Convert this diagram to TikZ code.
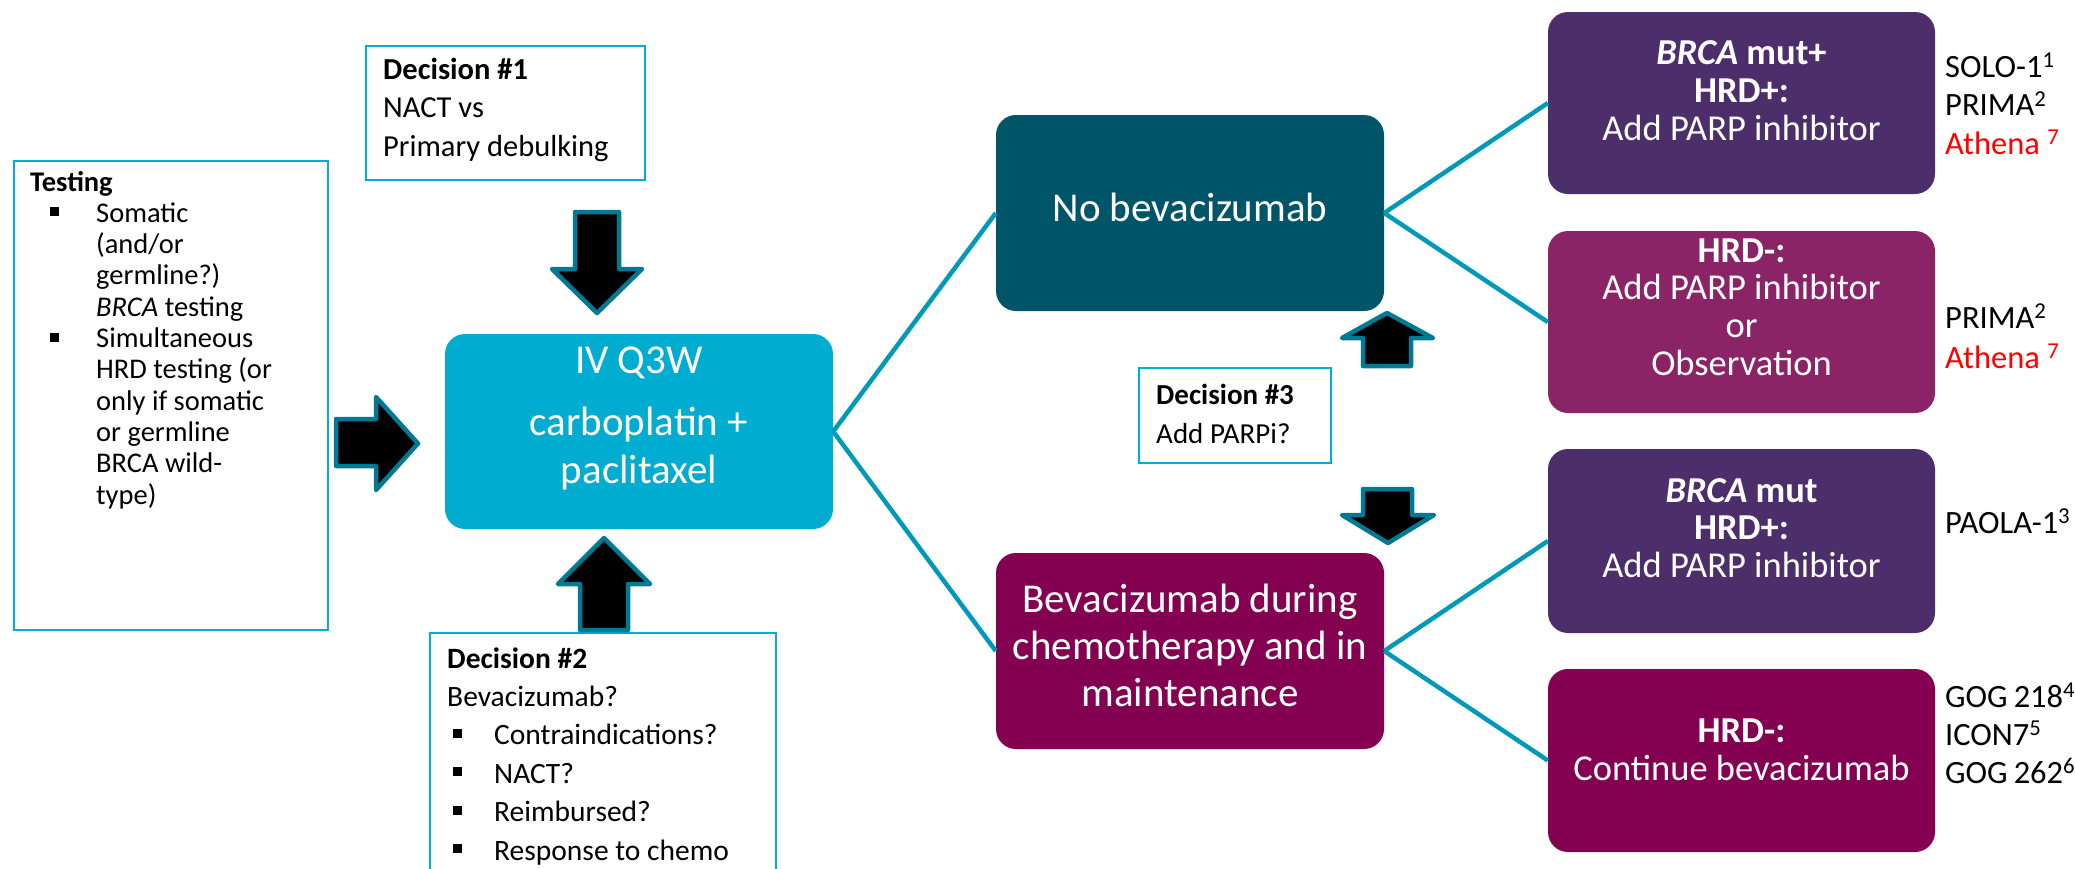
\documentclass[tikz,border=0pt]{standalone}
\usepackage{fontspec}
\setmainfont{Carlito}
\definecolor{framec}{HTML}{00AFD5}
\definecolor{arrowc}{HTML}{007A94}
\definecolor{connc}{HTML}{0099B8}
\definecolor{mainc}{HTML}{00ADD0}
\definecolor{nobevc}{HTML}{005568}
\definecolor{bevc}{HTML}{840050}
\definecolor{purpc}{HTML}{4C2E6A}
\definecolor{magc}{HTML}{8B2466}
\definecolor{redc}{HTML}{FF0000}
\newcommand\bsq[1]{\rule[#1]{9pt}{9pt}}
\newcommand\tbul{\hspace*{20pt}\makebox[46pt][l]{\bsq{6pt}}}
\newcommand\tind{\hspace*{66pt}}
\newcommand\dbul{\hspace*{6pt}\makebox[41pt][l]{\bsq{7pt}}}
\tikzset{
  framebox/.style={draw=framec, line width=2.5pt, rectangle, inner sep=0pt},
  colbox/.style={rectangle, rounded corners=20pt, draw=none, inner sep=0pt,
     minimum width=388pt, minimum height=196pt},
  rightbox/.style={rectangle, rounded corners=20pt, draw=none, inner sep=0pt,
     minimum width=387pt},
  blockarrow/.style={fill=black, draw=arrowc, line width=4.5pt, line join=round},
  conn/.style={draw=connc, line width=4.5pt},
  wtxt/.style={inner sep=0pt, anchor=base, text=white},
  btxt/.style={inner sep=0pt, anchor=base west, text=black},
}
\begin{document}
\begin{tikzpicture}[x=1pt,y=-1pt]
\useasboundingbox (0,0) rectangle (2075,868);

% ---- frame boxes
\node[framebox, minimum width=314pt, minimum height=469pt] (testing) at (171,395.5) {};
\node[framebox, minimum width=279pt, minimum height=134pt] (dec1) at (505.5,113) {};
\node[framebox, minimum width=346pt, minimum height=267pt] (dec2) at (603,766.5) {};
\node[framebox, minimum width=192pt, minimum height=95pt] (dec3) at (1235,415.5) {};

\node[btxt] (testingT) at (30,191) {\parbox[t]{295pt}{\fontsize{28.5}{31.3}\selectfont
\textbf{Testing}\\
\tbul Somatic\\
\tind (and/or\\
\tind germline?)\\
\tind \textit{BRCA} testing\\
\tbul Simultaneous\\
\tind HRD testing (or\\
\tind only if somatic\\
\tind or germline\\
\tind BRCA wild-\\
\tind type)}};

\node[btxt] (dec1T) at (383,79) {\parbox[t]{260pt}{\fontsize{30.5}{38.5}\selectfont
\textbf{Decision \#1}\\
NACT vs\\
Primary debulking}};

\node[btxt] (dec2T) at (447,668) {\parbox[t]{320pt}{\fontsize{29.5}{38.4}\selectfont
\textbf{Decision \#2}\\
Bevacizumab?\\
\dbul Contraindications?\\
\dbul NACT?\\
\dbul Reimbursed?\\
\dbul Response to chemo}};

\node[btxt] (dec3T) at (1156,404) {\parbox[t]{170pt}{\fontsize{29}{39}\selectfont
\textbf{Decision \#3}\\
Add PARPi?}};

% ---- coloured boxes
\node[colbox, fill=mainc, minimum height=195pt] (main) at (639,431.5) {};
\node[wtxt] (mainT) at (639,373) {\parbox[t]{380pt}{\centering\fontsize{41}{48}\selectfont
IV Q3W\\[14pt]
carboplatin +\\
paclitaxel}};

\node[colbox, fill=nobevc] (nobev) at (1190,213) {};
\node[wtxt] (nobevT) at (1190,221) {\fontsize{41}{48}\selectfont No bevacizumab};

\node[colbox, fill=bevc] (bev) at (1190,651) {};
\node[wtxt] (bevT) at (1190,612) {\parbox[t]{385pt}{\centering\fontsize{41}{47}\selectfont
Bevacizumab during\\
chemotherapy and in\\
maintenance}};

\node[rightbox, fill=purpc, minimum height=182pt] (r1) at (1741.5,103) {};
\node[wtxt] (r1T) at (1741.5,64) {\parbox[t]{380pt}{\centering\fontsize{36.5}{38}\selectfont
\textbf{\textit{BRCA} mut+}\\
\textbf{HRD+:}\\
Add PARP inhibitor}};

\node[rightbox, fill=magc, minimum height=182pt] (r2) at (1741.5,322) {};
\node[wtxt] (r2T) at (1741.5,262) {\parbox[t]{380pt}{\centering\fontsize{36.5}{37.7}\selectfont
\textbf{HRD-:}\\
Add PARP inhibitor\\
or\\
Observation}};

\node[rightbox, fill=purpc, minimum height=184pt] (r3) at (1741.5,541) {};
\node[wtxt] (r3T) at (1741.5,502) {\parbox[t]{380pt}{\centering\fontsize{36.5}{37.5}\selectfont
\textbf{\textit{BRCA} mut}\\
\textbf{HRD+:}\\
Add PARP inhibitor}};

\node[rightbox, fill=bevc, minimum height=183pt] (r4) at (1741.5,760.5) {};
\node[wtxt] (r4T) at (1741.5,742) {\parbox[t]{380pt}{\centering\fontsize{36.5}{38}\selectfont
\textbf{HRD-:}\\
Continue bevacizumab}};

% ---- trial labels
\node[btxt] (l1) at (1945,77) {\parbox[t]{130pt}{\fontsize{32.5}{38.5}\selectfont
SOLO-1\textsuperscript{1}\\
PRIMA\textsuperscript{2}\\
\textcolor{redc}{Athena \textsuperscript{7}}}};
\node[btxt] (l2) at (1945,328) {\parbox[t]{130pt}{\fontsize{32.5}{40}\selectfont
PRIMA\textsuperscript{2}\\
\textcolor{redc}{Athena \textsuperscript{7}}}};
\node[btxt] (l3) at (1945,533) {\fontsize{32.5}{38.5}\selectfont PAOLA-1\textsuperscript{3}};
\node[btxt] (l4) at (1945,707) {\parbox[t]{130pt}{\fontsize{32.5}{38}\selectfont
GOG 218\textsuperscript{4}\\
ICON7\textsuperscript{5}\\
GOG 262\textsuperscript{6}}};

% ---- connectors
\draw[conn] (main.east) -- (nobev.west);
\draw[conn] (main.east) -- (bev.west);
\draw[conn] (nobev.east) -- (r1.west);
\draw[conn] (nobev.east) -- (r2.west);
\draw[conn] (bev.east) -- (r3.west);
\draw[conn] (bev.east) -- (r4.west);

% ---- block arrows
% testing -> main
\draw[blockarrow] (336,419) -- (376,419) -- (376,397) -- (418,443.5) -- (376,490) -- (376,466) -- (336,466) -- cycle;
% decision 1 -> main (down)
\draw[blockarrow] (575,212) -- (619,212) -- (619,269) -- (642,269) -- (597,313) -- (552,269) -- (575,269) -- cycle;
% decision 2 -> main (up)
\draw[blockarrow] (580,630) -- (628,630) -- (628,584) -- (650,584) -- (604,538) -- (558,584) -- (580,584) -- cycle;
% decision 3 -> no bevacizumab (up)
\draw[blockarrow] (1363,366) -- (1411,366) -- (1411,338) -- (1433,338) -- (1387,313) -- (1342,338) -- (1363,338) -- cycle;
% decision 3 -> bevacizumab (down)
\draw[blockarrow] (1363,489) -- (1412,489) -- (1412,515) -- (1434,515) -- (1388,543) -- (1342,515) -- (1363,515) -- cycle;
\end{tikzpicture}
\end{document}
